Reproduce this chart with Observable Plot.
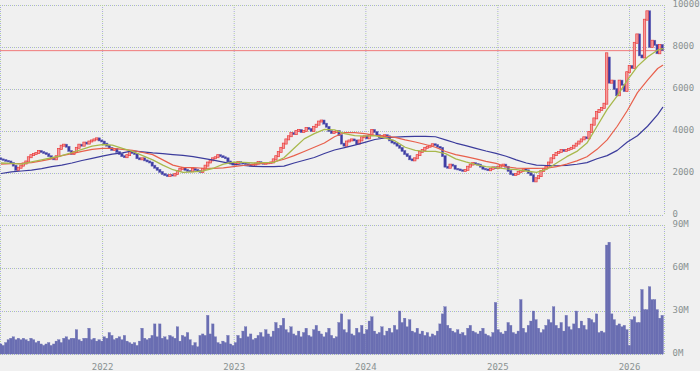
<!DOCTYPE html>
<html><head><meta charset="utf-8">
<script src="https://cdn.jsdelivr.net/npm/d3@7"></script>
<script src="https://cdn.jsdelivr.net/npm/@observablehq/plot@0.6"></script>
<style>
html,body{margin:0;padding:0;background:#f0f0f0;}
#chart{width:700px;height:371px;position:relative;overflow:hidden;background:#f0f0f0;}
#chart svg{display:block;overflow:visible;}
</style></head><body><div id="chart"></div>
<script>
// weekly candles, first week ending 2021-03-26
const firstWeek = "2021-03-26";
const open = [
2700,2650,2620,2580,2550,2480,2350,2150,2250,2350,
2450,2550,2750,2850,2900,2950,3050,3000,2950,2900,
2800,2700,2650,2800,3150,3300,3350,3250,3050,2900,
3000,3200,3350,3300,3450,3400,3500,3550,3600,3650,
3550,3500,3400,3300,3200,3100,3150,3000,2900,2800,
2750,2850,3000,2950,2900,2700,2650,2700,2600,2550,
2500,2350,2250,2150,2050,1950,1900,1850,1900,1880,
1950,2100,2200,2250,2150,2100,2080,2200,2150,2100,
2050,2200,2350,2500,2600,2700,2750,2850,2800,2750,
2700,2550,2450,2400,2450,2520,2480,2450,2420,2400,
2350,2400,2450,2520,2480,2440,2460,2480,2500,2650,
2800,3000,3200,3400,3600,3750,3900,3850,4000,4050,
3950,4000,4150,4100,4000,4200,4300,4450,4500,4350,
4200,4000,3900,3950,4000,3800,3400,3300,3500,3550,
3600,3550,3400,3550,3700,3750,3650,3800,4050,3950,
3800,3700,3750,3800,3750,3550,3450,3400,3300,3200,
3050,2900,2800,2650,2600,2700,2850,3000,3100,3200,
3250,3300,3370,3330,3250,3200,2800,2300,2250,2400,
2350,2200,2170,2130,2100,2150,2300,2400,2470,2430,
2400,2300,2200,2170,2130,2200,2270,2230,2300,2350,
2400,2300,2100,1950,1900,1950,2050,2100,2170,2130,
2000,1900,1600,1750,1850,2100,2200,2300,2500,2700,
2850,2950,3000,3100,3050,3100,3150,3200,3300,3400,
3500,3600,3700,3650,3950,4300,4600,4900,5000,5100,
5300,7500,6300,6400,6000,5700,6400,6200,5900,6800,
7100,7000,8200,8600,7600,7500,9300,9700,8000,8300,
8100,7700,8100];
const close = [
2650,2620,2580,2550,2480,2350,2150,2250,2350,2450,
2550,2750,2850,2900,2950,3050,3000,2950,2900,2800,
2700,2650,2800,3150,3300,3350,3250,3050,2900,3000,
3200,3350,3300,3450,3400,3500,3550,3600,3650,3550,
3500,3400,3300,3200,3100,3150,3000,2900,2800,2750,
2850,3000,2950,2900,2700,2650,2700,2600,2550,2500,
2350,2250,2150,2050,1950,1900,1850,1900,1880,1950,
2100,2200,2250,2150,2100,2080,2200,2150,2100,2050,
2200,2350,2500,2600,2700,2750,2850,2800,2750,2700,
2550,2450,2400,2450,2520,2480,2450,2420,2400,2350,
2400,2450,2520,2480,2440,2460,2480,2500,2650,2800,
3000,3200,3400,3600,3750,3900,3850,4000,4050,3950,
4000,4150,4100,4000,4200,4300,4450,4500,4350,4200,
4000,3900,3950,4000,3800,3400,3300,3500,3550,3600,
3550,3400,3550,3700,3750,3650,3800,4050,3950,3800,
3700,3750,3800,3750,3550,3450,3400,3300,3200,3050,
2900,2800,2650,2600,2700,2850,3000,3100,3200,3250,
3300,3370,3330,3250,3200,2800,2300,2250,2400,2350,
2200,2170,2130,2100,2150,2300,2400,2470,2430,2400,
2300,2200,2170,2130,2200,2270,2230,2300,2350,2400,
2300,2100,1950,1900,1950,2050,2100,2170,2130,2000,
1900,1600,1750,1850,2100,2200,2300,2500,2700,2850,
2950,3000,3100,3050,3100,3150,3200,3300,3400,3500,
3600,3700,3650,3950,4300,4600,4900,5000,5100,5300,
7700,6300,6400,6000,5700,6400,6200,5900,6800,7100,
7000,8200,8600,7600,7500,9300,9700,8000,8300,8100,
7700,8100,7850];
// weekly volume, millions of shares
const volume = [
7,6,8,10,11,12,10,11,10,11,
10,9,11,10,8,9,7,6,7,8,
6,7,9,10,8,11,12,10,11,11,
17,10,9,11,11,18,10,11,9,10,
9,12,11,15,13,10,11,12,10,13,
9,8,7,8,6,9,18,11,10,11,
13,21,12,21,11,12,10,13,12,11,
19,9,13,12,15,10,6,8,5,13,
14,13,27,14,21,12,8,7,9,8,
13,7,6,8,13,11,16,19,12,14,
10,11,13,15,12,17,14,12,16,22,
18,20,25,17,15,19,14,13,16,12,
15,18,13,12,17,20,16,14,12,15,
18,13,11,12,22,28,17,15,24,14,
13,18,15,20,14,17,23,26,16,14,
15,19,13,16,18,15,20,17,30,22,
25,19,24,16,15,18,14,16,13,15,
12,14,13,16,21,28,33,20,18,16,
15,17,14,15,13,18,20,16,15,14,
16,18,14,13,12,15,36,17,15,14,
16,22,20,15,14,16,38,18,15,20,
23,30,24,18,15,17,20,24,22,33,
20,18,22,16,27,19,17,21,30,18,
23,20,17,25,24,22,28,15,16,15,
76,78,28,24,20,21,19,20,17,6,
24,26,22,22,45,31,31,47,38,38,
31,25,27];
// moving averages read every 4 weeks
const maWeek = [0,4,8,12,16,20,24,28,32,36,40,44,48,52,56,60,64,68,72,76,80,84,88,92,96,100,
104,108,112,116,120,124,128,132,136,140,144,148,152,156,160,164,168,172,176,180,184,188,192,196,
200,204,208,212,216,220,224,228,232,236,240,244,248,252,256,260,262];
const ma13 = [2500,2480,2450,2550,2650,2750,2850,3000,3150,3300,3380,3350,3200,3050,2850,2650,2400,2180,2050,2080,2120,2250,2450,2540,2530,2500,
2520,2530,2750,3200,3650,3900,4100,4080,3900,3800,3780,3800,3700,3550,3250,3100,3050,3050,2950,2700,2550,2420,2330,2280,
2220,2180,2120,2050,2200,2500,2800,3050,3450,4250,5050,5700,6450,7100,7550,7880,7950];
const ma26 = [2450,2470,2480,2520,2600,2700,2850,2950,3050,3150,3200,3200,3150,3100,3000,2900,2650,2400,2280,2280,2250,2240,2270,2330,2380,2430,
2480,2550,2680,2850,3050,3250,3450,3750,3950,3950,3900,3820,3780,3720,3600,3500,3380,3250,3050,2900,2800,2700,2580,2480,
2320,2260,2240,2240,2250,2330,2450,2600,2800,3150,3600,4250,5000,5850,6450,7000,7150];
const ma52 = [2000,2080,2120,2160,2230,2330,2400,2500,2620,2720,2830,2920,2980,3080,3030,2980,2950,2900,2860,2800,2720,2640,2540,2450,2380,2340,
2330,2330,2350,2500,2630,2760,2950,3120,3230,3350,3480,3620,3690,3730,3760,3770,3770,3750,3600,3450,3330,3200,3070,2960,
2820,2650,2500,2400,2380,2370,2390,2440,2520,2700,2850,3100,3500,3800,4250,4800,5150];
const lastPrice = 7850;
const priceTicks = [0,2000,4000,6000,8000,10000];
const volumeTicks = [0,30,60,90];
const yearTicks = ["2022-01-01","2023-01-01","2024-01-01","2025-01-01","2026-01-01"];
const xStart = "2021-03-24", xEnd = "2026-04-08";

const DAY = 864e5;
const t0 = new Date(firstWeek + "T00:00:00Z").getTime();
const wk = i => new Date(t0 + i * 7 * DAY);
const rows = close.map((c, i) => ({date: wk(i), open: open[i], close: c, volume: volume[i],
  x1: new Date(t0 + i * 7 * DAY - 3.3 * DAY), x2: new Date(t0 + i * 7 * DAY + 3.3 * DAY),
  v1: new Date(t0 + i * 7 * DAY - 3.5 * DAY), v2: new Date(t0 + i * 7 * DAY + 3.5 * DAY)}));
const maRows = maWeek.map((w, k) => ({date: wk(w), ma13: ma13[k], ma26: ma26[k], ma52: ma52[k]}));
const xDomain = [new Date(xStart), new Date(xEnd)];
const years = yearTicks.map(d => new Date(d));
const vlines = [xDomain[0], ...years, xDomain[1]];

function dotted(mark, data) {
  return [
    mark(data, {stroke: "#b4d09a", strokeDasharray: "1,3", strokeWidth: 1}),
    mark(data, {stroke: "#a8a8e0", strokeDasharray: "1,3", strokeDashoffset: 2, strokeWidth: 1})
  ];
}
const font = {background: "transparent", fontFamily: "'DejaVu Sans Mono', monospace", fontSize: "9px", color: "#8a9292"};

const up = rows.filter(d => d.close >= d.open);
const down = rows.filter(d => d.close < d.open);

const price = Plot.plot({
  width: 700, height: 220, marginTop: 5, marginBottom: 5, marginLeft: 0, marginRight: 36,
  style: font,
  x: {type: "utc", domain: xDomain, axis: null},
  y: {domain: [0, 10000]},
  marks: [
    ...dotted(Plot.ruleY, priceTicks),
    ...dotted(Plot.ruleX, vlines),
    Plot.ruleY([lastPrice], {stroke: "#f07a7a", strokeWidth: 1}),
    Plot.rect(down, {x1: "x1", x2: "x2", y1: "open", y2: "close", fill: "#3c3ca2", stroke: "#6666b8", strokeWidth: 0.5, insetTop: -0.5, insetBottom: -0.5}),
    Plot.rect(up, {x1: "x1", x2: "x2", y1: "open", y2: "close", fill: "#f59a9a", stroke: "#ea3c3c", strokeWidth: 0.7, insetTop: -0.5, insetBottom: -0.5}),
    Plot.line(maRows, {x: "date", y: "ma52", stroke: "#3c3c9c", strokeWidth: 1.2}),
    Plot.line(maRows, {x: "date", y: "ma26", stroke: "#e8604c", strokeWidth: 1.2}),
    Plot.line(maRows, {x: "date", y: "ma13", stroke: "#a8b84c", strokeWidth: 1.3}),
    Plot.axisY(priceTicks, {anchor: "right", label: null, tickSize: 0, tickPadding: 8, tickFormat: d => String(d), dy: -1.5})
  ]
});

const vol = Plot.plot({
  width: 700, height: 151, marginTop: 5, marginBottom: 17, marginLeft: 0, marginRight: 36,
  style: font,
  x: {type: "utc", domain: xDomain, label: null},
  y: {domain: [0, 90], label: null},
  marks: [
    ...dotted(Plot.ruleY, volumeTicks),
    ...dotted(Plot.ruleX, vlines),
    Plot.rect(rows, {x1: "v1", x2: "v2", y1: 0, y2: "volume", fill: "#6a6eb2", stroke: "#6a6eb2", strokeWidth: 0.3}),
    Plot.axisY(volumeTicks, {anchor: "right", label: null, tickSize: 0, tickPadding: 8, tickFormat: d => d + "M", dy: -1}),
    Plot.axisX(years, {label: null, tickSize: 0, tickPadding: 9, tickFormat: d3.utcFormat("%Y")})
  ]
});

const chart = document.getElementById("chart");
chart.append(price, vol);
</script>
</body></html>
